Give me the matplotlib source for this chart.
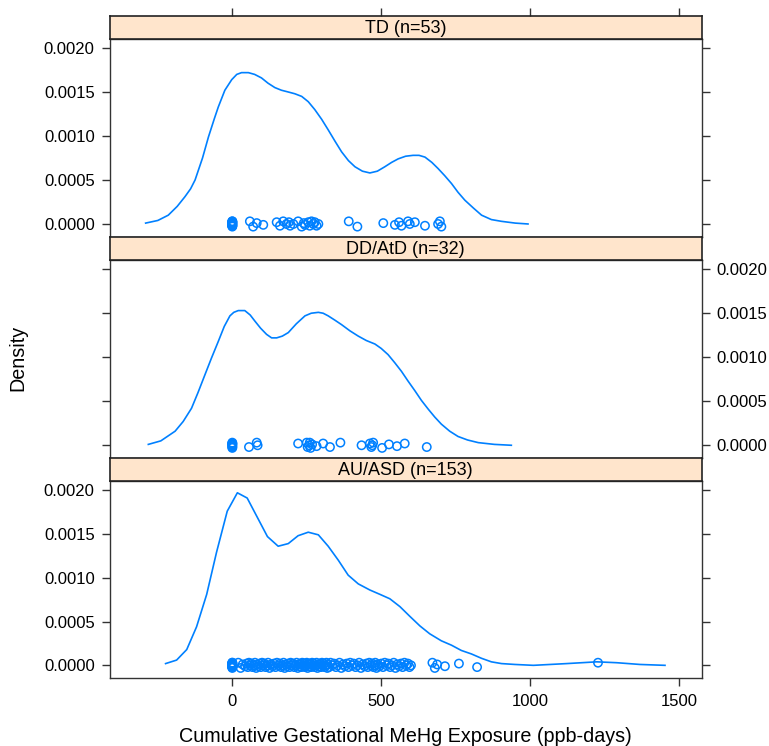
import numpy as np
import matplotlib
matplotlib.use("Agg")
import matplotlib.pyplot as plt

plt.rcParams['font.family'] = ['Liberation Sans', 'DejaVu Sans']

BLUE = '#0080ff'
STRIP = '#ffe5cc'

# panel titles (top to bottom)
panels = ['TD (n=53)', 'DD/AtD (n=32)', 'AU/ASD (n=153)']

# density curves
td_x = [-291, -250, -215, -185, -159, -140, -125, -100, -80, -60, -47, -25, -2, 15, 31, 54,
        75, 98, 120, 143, 165, 188, 210, 233, 255, 277, 300, 322, 345, 367, 390, 412, 437,
        462, 487, 512, 535, 557, 582, 607, 627, 647, 670, 691, 713, 736, 758, 781, 810, 837,
        870, 904, 950, 993]
td_y = [0.00001, 0.00004, 0.0001, 0.0002, 0.00031, 0.0004, 0.0005, 0.00075, 0.00099, 0.0012,
        0.00133, 0.00152, 0.00164, 0.0017, 0.00172, 0.00172, 0.0017, 0.00166, 0.0016, 0.00155,
        0.00152, 0.0015, 0.00148, 0.00145, 0.00139, 0.0013, 0.00119, 0.00107, 0.00094,
        0.00082, 0.00072, 0.00065, 0.0006, 0.00058, 0.0006, 0.00065, 0.0007, 0.00074,
        0.00077, 0.00078, 0.00078, 0.00076, 0.0007, 0.00063, 0.00055, 0.00046, 0.00036,
        0.00027, 0.00018, 0.0001, 0.00005, 0.00003, 0.00001, 0.0]

dd_x = [-282, -240, -192, -165, -137, -115, -92, -70, -47, -27, -8, 5, 20, 42, 60, 76, 95,
        115, 132, 149, 168, 188, 215, 244, 265, 289, 305, 322, 345, 367, 395, 423, 450, 479,
        500, 523, 545, 568, 590, 613, 635, 658, 680, 702, 730, 758, 790, 826, 880, 937]
dd_y = [0.00001, 0.00005, 0.00016, 0.00027, 0.00042, 0.0006, 0.0008, 0.00099, 0.00118,
        0.00135, 0.00147, 0.00151, 0.00153, 0.00153, 0.00148, 0.00141, 0.00133, 0.00126,
        0.00122, 0.00122, 0.00124, 0.00128, 0.00138, 0.00147, 0.0015, 0.00151, 0.0015,
        0.00147, 0.00142, 0.00137, 0.0013, 0.00124, 0.00119, 0.00115, 0.0011, 0.00103,
        0.00094, 0.00084, 0.00073, 0.00062, 0.00051, 0.00041, 0.00032, 0.00024, 0.00016,
        0.0001, 0.00006, 0.00003, 0.00001, 0.0]

au_x = [-224, -187, -153, -120, -86, -53, -17, 17, 50, 84, 118, 154, 188, 221, 255, 289,
        322, 356, 389, 423, 462, 496, 529, 563, 596, 630, 663, 702, 736, 769, 803, 837,
        870, 904, 949, 1011, 1123, 1224, 1291, 1369, 1453]
au_y = [0.00002, 0.00006, 0.00018, 0.00044, 0.00081, 0.00129, 0.00176, 0.00197, 0.00191,
        0.00169, 0.00147, 0.00136, 0.00139, 0.00148, 0.00152, 0.00149, 0.00136, 0.0012,
        0.00103, 0.00093, 0.00086, 0.00081, 0.00076, 0.00067, 0.00056, 0.00045, 0.00036,
        0.00028, 0.00023, 0.00017, 0.00013, 0.00008, 0.00004, 0.00002, 0.00001, 0.0,
        0.00002, 0.00004, 0.00003, 0.00001, 0.0]

# raw exposure values (rug points)
td_pts = [0]*14 + [59, 70, 82, 104, 149, 160, 171, 182, 190, 194, 205, 221, 233, 240, 244,
                   255, 260, 266, 272, 277, 283, 289, 391, 420, 507, 546, 560, 568, 590, 596,
                   613, 647, 691, 697, 702]
dd_pts = [0]*8 + [56, 82, 85, 221, 253, 258, 260, 263, 268, 283, 305, 328, 363, 434, 462,
                  467, 470, 473, 503, 526, 553, 579, 653, 250]
au_pts = ([0]*14 +
          [20, 28, 35, 43, 48, 52, 56, 60, 64, 68, 72, 76, 80, 84, 88, 92, 96, 100, 104, 108,
           112, 116, 120, 125, 130, 135, 140, 145, 150, 155] +
          [160, 164, 168, 172, 176, 180, 184, 188, 192, 196, 200, 204, 208, 212, 216, 220,
           223, 226, 229, 232, 235, 238, 241, 244, 247, 250, 253, 256, 259, 262, 265, 268,
           271, 274, 277, 280, 283, 286, 289, 292, 295, 298, 301, 304, 307, 310, 313, 316,
           319, 320, 245, 255] +
          [325, 330, 336, 342, 348, 354, 360, 366, 372, 378, 384, 390, 396, 402, 408, 414,
           420, 426, 432, 438, 444, 450, 455, 460, 465, 470, 474, 478, 480, 484] +
          [488, 494, 500, 506, 512, 518, 524, 530, 536, 542, 548, 554, 560, 566, 572, 578,
           584, 590, 595, 600] +
          [672, 680, 688, 714, 761, 822, 1228])

curves = [(td_x, td_y, td_pts), (dd_x, dd_y, dd_pts), (au_x, au_y, au_pts)]

# small fixed vertical offsets for the rug points
jit = [0.00002, -0.00002, 0.00000, 0.00003, -0.00003, 0.00001, -0.00001, 0.00002, -0.00002, 0.00003, 0.0]

W, H = 769, 746
fig = plt.figure(figsize=(W/100, H/100), dpi=100)

left, right = 110, 701.5
# (strip top, strip bottom / panel top, panel bottom) in pixels
rows = [(15.5, 38.5, 237), (237, 259.7, 458.3), (458.3, 480.7, 678.3)]

xlim = ((110 - 232.3)/0.2978, (701.5 - 232.3)/0.2978)
ylim = (-0.000148, 0.002108)
yt = [0, 0.0005, 0.0010, 0.0015, 0.0020]

for i, (name, (st, sb, pb)) in enumerate(zip(panels, rows)):
    ax = fig.add_axes([left/W, 1 - pb/H, (right-left)/W, (pb - sb)/H])
    cx, cy, pts = curves[i]
    ax.plot(cx, cy, color=BLUE, lw=1.2)
    pts = np.array(pts)
    jy = np.resize(jit, len(pts))
    ax.scatter(pts, jy, s=36, facecolors='none', edgecolors=BLUE, linewidths=1.1, zorder=3)
    ax.set_xlim(*xlim)
    ax.set_ylim(*ylim)
    ax.set_yticks(yt)
    ax.set_yticklabels(['%.4f' % v for v in yt])
    ax.set_xticks([0, 500, 1000, 1500])
    ax.set_xticklabels(['0', '500', '1000', '1500'])
    ax.tick_params(direction='out', length=6, width=1, colors='#333333', labelcolor='black',
                   labelsize=12, pad=5, left=True, right=True,
                   labelleft=(i != 1), labelright=(i == 1),
                   bottom=(i == 2), labelbottom=(i == 2), top=False, labeltop=False)
    for s in ax.spines.values():
        s.set_color('#333333')
        s.set_linewidth(1)

    sax = fig.add_axes([left/W, 1 - sb/H, (right-left)/W, (sb - st)/H])
    sax.set_facecolor(STRIP)
    sax.set_xticks([])
    sax.set_yticks([])
    for s in sax.spines.values():
        s.set_color('#222222')
        s.set_linewidth(1.2)
    sax.text(0.5, 0.45, name, ha='center', va='center', fontsize=13, transform=sax.transAxes)
    if i == 0:
        sax.set_xlim(*xlim)
        sax.set_xticks([0, 500, 1000, 1500])
        sax.tick_params(axis='x', direction='out', length=6, width=1, colors='#333333',
                        top=True, bottom=False, labeltop=False, labelbottom=False)

fig.text((left + right)/2/W, 1 - 736/H, 'Cumulative Gestational MeHg Exposure (ppb-days)',
         ha='center', va='center', fontsize=14.2)
fig.text(18/W, 1 - 358/H, 'Density', ha='center', va='center', rotation=90, fontsize=14.2)

fig.savefig('out.png', dpi=100)
